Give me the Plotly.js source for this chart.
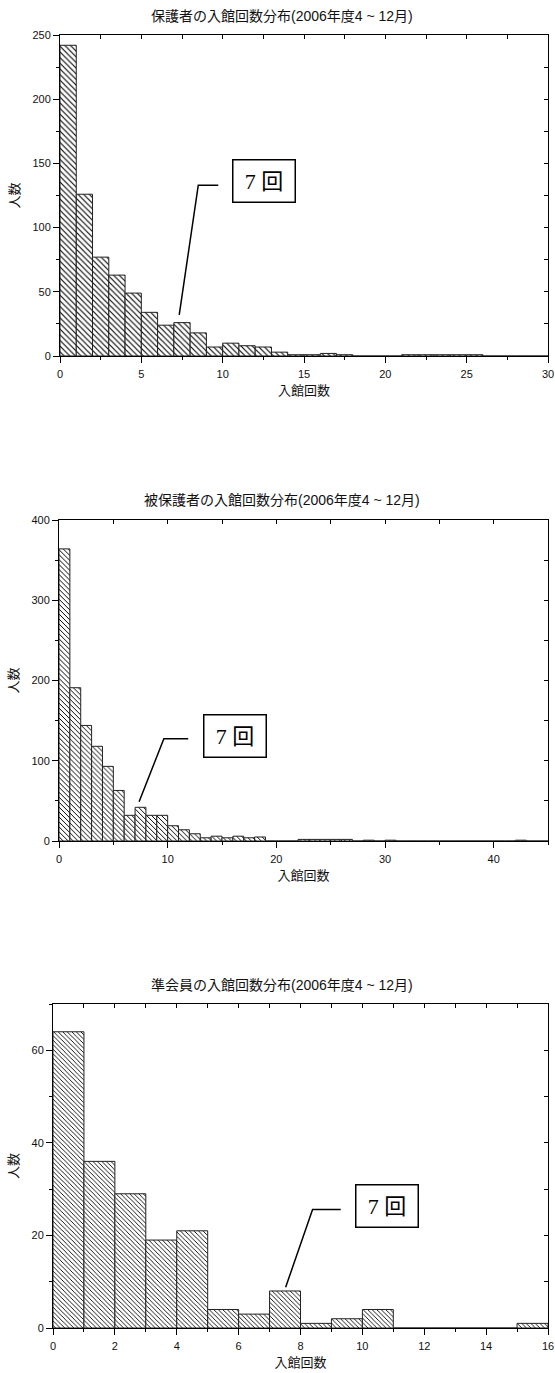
<!DOCTYPE html>
<html><head><meta charset="utf-8">
<script src="https://cdn.plot.ly/plotly-3.0.1.min.js"></script>
<style>html,body{margin:0;padding:0;background:#fff}#chart{width:555px;height:1373px}</style>
</head><body><div id="chart"></div>
<script>
// ---- data ----
const visits1 = [0,1,2,3,4,5,6,7,8,9,10,11,12,13,14,15,16,17,18,19,20,21,22,23,24,25,26,27,28,29];
const counts1 = [242,126,77,63,49,34,24,26,18,7,10,8,7,3,1,1,2,1,0,0,0,1,1,1,1,1,0,0,0,0];

const visits2 = [0,1,2,3,4,5,6,7,8,9,10,11,12,13,14,15,16,17,18,19,20,21,22,23,24,25,26,27,28,29,30,31,32,33,34,35,36,37,38,39,40,41,42,43,44];
const counts2 = [364,191,144,118,93,63,32,42,32,32,19,14,9,4,6,4,6,4,5,0,0,0,2,2,2,2,2,0,1,0,1,0,0,0,0,0,0,0,0,0,0,0,1,0,0];

const visits3 = [0,1,2,3,4,5,6,7,8,9,10,11,12,13,14,15];
const counts3 = [64,36,29,19,21,4,3,8,1,2,4,0,0,0,0,1];

const titles = [
  "保護者の入館回数分布(2006年度4 ~ 12月)",
  "被保護者の入館回数分布(2006年度4 ~ 12月)",
  "準会員の入館回数分布(2006年度4 ~ 12月)"
];
const xTitle = "入館回数";
const yTitle = "人数";
const calloutText = "7 回";

// ---- layout helpers ----
const W = 555, H = 1373;
const FONT = "Liberation Sans, Arial, Noto Sans CJK JP, sans-serif";
const SERIF = "Liberation Serif, Times New Roman, Noto Sans CJK JP, serif";

function pxX(a, b){ return [a / W, b / W]; }
function pxY(top, bottom){ return [1 - bottom / H, 1 - top / H]; }

const panels = [
  {x: visits1, y: counts1, xd: pxX(60,548), yd: pxY(35,356), xr:[0,30], yr:[0,250],
   xdt:5, xmin:2.5, xtop:2.5, ydt:50, ymin:25, yright:25, pat:4,
   call:{box:[12.57,136], knee:[8.5,133], end:[9.73,133], tip:[7.33,32]}, titleY:16},
  {x: visits2, y: counts2, xd: pxX(59,548), yd: pxY(520,841), xr:[0,45], yr:[0,400],
   xdt:10, xmin:5, xtop:5, ydt:100, ymin:50, yright:50, pat:3.5,
   call:{box:[16.15,131], knee:[9.65,127.4], end:[11.89,127.4], tip:[7.37,49]}, titleY:500},
  {x: visits3, y: counts3, xd: pxX(53,548), yd: pxY(1004,1328), xr:[0,16], yr:[0,70],
   xdt:2, xmin:1, xtop:1, ydt:20, ymin:10, yright:10, pat:3.2,
   call:{box:[10.79,26.4], knee:[8.39,25.6], end:[9.30,25.6], tip:[7.52,8.8]}, titleY:985}
];

const data = [];
const layout = {
  width: W, height: H,
  margin: {l:0, r:0, t:0, b:0},
  paper_bgcolor: "white", plot_bgcolor: "white",
  showlegend: false,
  font: {family: FONT, size: 11, color: "#111"},
  annotations: [], shapes: []
};

const base = {
  showgrid:false, zeroline:false, showline:true, linecolor:"#000", linewidth:1,
  tickcolor:"#000", tickwidth:1, fixedrange:true
};

panels.forEach((p, i) => {
  const n = i + 1;
  const xa = n === 1 ? "x" : "x" + n, ya = n === 1 ? "y" : "y" + n;
  const xk = n === 1 ? "xaxis" : "xaxis" + n, yk = n === 1 ? "yaxis" : "yaxis" + n;
  const xo = "x" + (n + 3), yo = "y" + (n + 3);
  const xok = "xaxis" + (n + 3), yok = "yaxis" + (n + 3);

  data.push({
    type:"bar", x:p.x, y:p.y, xaxis:xa, yaxis:ya, width:1, offset:0,
    marker:{color:"white", line:{color:"#222", width:1},
      pattern:{shape:"\\", size:p.pat, solidity:0.28, fgcolor:"#000", bgcolor:"white"}},
    hoverinfo:"skip"
  });
  // empty traces so the mirrored top / right axes are drawn
  data.push({type:"scatter", mode:"lines", x:[], y:[], xaxis:xo, yaxis:ya, hoverinfo:"skip"});
  data.push({type:"scatter", mode:"lines", x:[], y:[], xaxis:xa, yaxis:yo, hoverinfo:"skip"});

  layout[xk] = Object.assign({}, base, {
    domain:p.xd, anchor:ya, range:p.xr, dtick:p.xdt, tick0:0,
    ticks:"outside", ticklen:6, ticklabelstandoff:2,
    minor:{ticks:"outside", ticklen:3, dtick:p.xmin, tick0:0, tickcolor:"#000", showgrid:false},
    tickfont:{size:11},
    title:{text:xTitle, font:{size:13}, standoff:6}
  });
  layout[yk] = Object.assign({}, base, {
    domain:p.yd, anchor:xa, range:p.yr, dtick:p.ydt, tick0:0,
    ticks:"outside", ticklen:6,
    minor:{ticks:"outside", ticklen:3, dtick:p.ymin, tick0:0, tickcolor:"#000", showgrid:false},
    tickfont:{size:11},
    title:{text:yTitle, font:{size:13}, standoff:9}
  });
  // mirrored top/right axes with inward ticks
  layout[xok] = Object.assign({}, base, {
    overlaying:xa, anchor:ya, side:"top", range:p.xr, dtick:p.xtop, tick0:0,
    ticks:"inside", ticklen:4, showticklabels:false
  });
  layout[yok] = Object.assign({}, base, {
    overlaying:ya, anchor:xa, side:"right", range:p.yr, dtick:p.yright, tick0:0,
    ticks:"inside", ticklen:4, showticklabels:false
  });

  // chart title
  layout.annotations.push({
    text:titles[i], xref:"paper", yref:"paper", x:282/W, y:1 - p.titleY/H,
    xanchor:"center", yanchor:"middle", showarrow:false, font:{size:14, color:"#111"}
  });
  // callout box
  const c = p.call;
  layout.annotations.push({
    text:calloutText, xref:xa, yref:ya, x:c.box[0], y:c.box[1],
    xanchor:"center", yanchor:"middle", showarrow:false,
    width:57, height:37, borderpad:2, bordercolor:"#000", borderwidth:1.5, bgcolor:"white",
    font:{family:SERIF, size:22, color:"#000"}
  });
  // leader line
  layout.shapes.push({
    type:"path", xref:xa, yref:ya,
    path:`M ${c.tip[0]},${c.tip[1]} L ${c.knee[0]},${c.knee[1]} L ${c.end[0]},${c.end[1]}`,
    line:{color:"#000", width:1.5}
  });
});

Plotly.newPlot("chart", data, layout, {staticPlot:true, displayModeBar:false});
</script>
</body></html>
